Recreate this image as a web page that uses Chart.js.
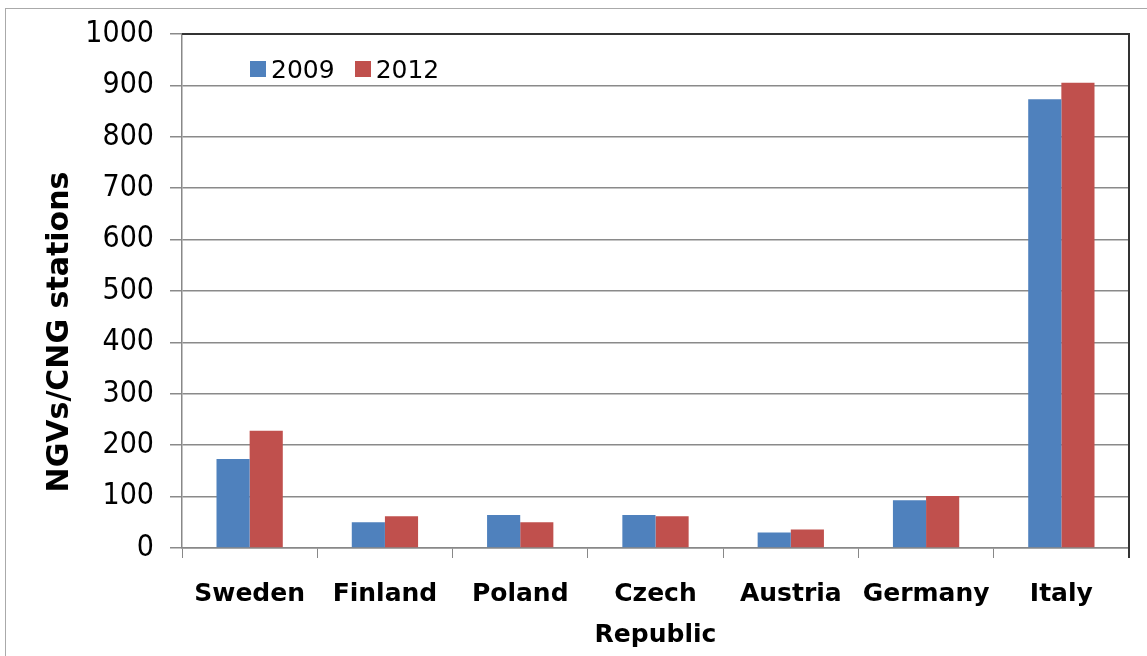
<!DOCTYPE html>
<html>
<head>
<meta charset="utf-8">
<script src="https://cdn.jsdelivr.net/npm/chart.js@4/dist/chart.umd.min.js"></script>
<style>
    html, body { margin: 0; padding: 0; background: #fff; }
    #wrap { position: relative; width: 1147px; height: 656px; }
    #frame { position: absolute; left: 5px; top: 8px; right: 0; bottom: 0; border-left: 1px solid #aaa; border-top: 1px solid #aaa; }
    #legend { position: absolute; left: 250px; top: 55px; font: 25px "DejaVu Sans", sans-serif; color: #000; white-space: nowrap; }
    #legend span.box { display: inline-block; width: 16px; height: 16px; margin-right: 5px; vertical-align: 1px; }
    #legend span.item { margin-right: 20px; }
</style>
</head>
<body>
<div id="wrap">
    <div id="frame"></div>
    <canvas id="barChart" width="1147" height="656"></canvas>
    <div id="legend"></div>
</div>
<script>
// Data
const countries = ['Sweden', 'Finland', 'Poland', ['Czech', 'Republic'], 'Austria', 'Germany', 'Italy'];
const series2009 = [173, 50, 64, 64, 30, 93, 873];
const series2012 = [228, 62, 50, 62, 36, 101, 905];
const seriesNames = ['2009', '2012'];
const yTicks = [0, 100, 200, 300, 400, 500, 600, 700, 800, 900, 1000];
const yTitle = 'NGVs/CNG stations';

const colors = ['#4F81BD', '#C0504D'];

// build the little legend inside the plot
const legendEl = document.getElementById('legend');
seriesNames.forEach((name, i) => {
    legendEl.innerHTML += `<span class="item"><span class="box" style="background:${colors[i]}"></span>${name}</span>`;
});

// dark frame on top / right of the plot area
const plotFrame = {
    id: 'plotFrame',
    afterDraw(chart) {
        const { ctx, chartArea: a } = chart;
        ctx.save();
        ctx.strokeStyle = '#333';
        ctx.lineWidth = 2;
        ctx.beginPath();
        ctx.moveTo(a.left, a.top);
        ctx.lineTo(a.right, a.top);
        ctx.lineTo(a.right, a.bottom + 10);
        ctx.stroke();
        ctx.restore();
    }
};

// y axis title, sits a bit lower than centre like the original
const yTitlePlugin = {
    id: 'yTitle',
    afterDraw(chart) {
        const { ctx } = chart;
        ctx.save();
        ctx.translate(60, 332);
        ctx.rotate(-Math.PI / 2);
        ctx.font = 'bold 30px "DejaVu Sans"';
        ctx.fillStyle = '#000';
        ctx.textAlign = 'center';
        ctx.textBaseline = 'middle';
        ctx.fillText(yTitle, 0, 0);
        ctx.restore();
    }
};

const ctx = document.getElementById('barChart').getContext('2d');
new Chart(ctx, {
    type: 'bar',
    data: {
        labels: countries,
        datasets: [
            { label: seriesNames[0], data: series2009, backgroundColor: colors[0] },
            { label: seriesNames[1], data: series2012, backgroundColor: colors[1] }
        ]
    },
    options: {
        responsive: false,
        animation: false,
        layout: { padding: { top: 31, right: 18, left: 0, bottom: 0 } },
        datasets: { bar: { categoryPercentage: 0.49, barPercentage: 1.0 } },
        plugins: {
            legend: { display: false },
            tooltip: { enabled: false }
        },
        scales: {
            x: {
                afterFit(scale) { scale.height = 108; },
                grid: { display: true, drawOnChartArea: false, drawTicks: true, tickLength: 10, color: '#888', offset: true },
                border: { color: '#888', width: 1.5 },
                ticks: {
                    color: '#000',
                    padding: 16,
                    font: { family: 'DejaVu Sans', size: 25, weight: 'bold', lineHeight: 1.65 }
                }
            },
            y: {
                min: 0,
                max: 1000,
                afterFit(scale) { scale.width = 182; },
                afterBuildTicks(scale) { scale.ticks = yTicks.map(v => ({ value: v })); },
                grid: { color: '#8a8a8a', lineWidth: 1.5, drawTicks: true, tickLength: 12 },
                border: { color: '#888', width: 1.5 },
                ticks: {
                    color: '#000',
                    padding: 16,
                    callback: v => String(v),
                    font: { family: '"DejaVu Sans Condensed", "DejaVu Sans"', size: 30 }
                }
            }
        }
    },
    plugins: [plotFrame, yTitlePlugin]
});
</script>
</body>
</html>
